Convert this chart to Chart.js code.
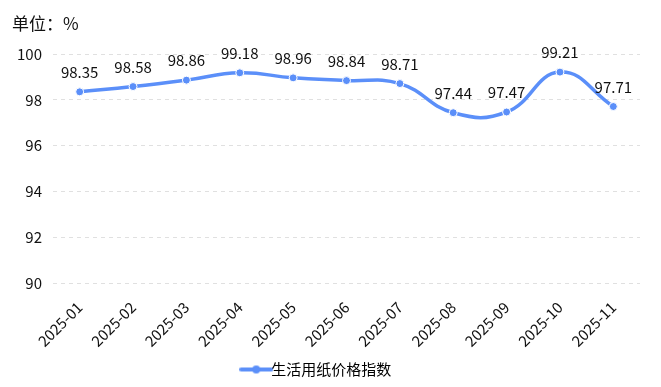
<!DOCTYPE html>
<html>
<head>
<meta charset="utf-8">
<script src="https://cdn.jsdelivr.net/npm/chart.js@4"></script>
<style>
  html,body{margin:0;padding:0;background:#fff;}
  #wrap{position:relative;width:661px;height:387px;}
  #unit{position:absolute;left:12px;top:10px;font:17px "Noto Sans CJK SC",sans-serif;color:#111;}
</style>
</head>
<body>
<div id="wrap">
  <div id="unit">单位：%</div>
  <canvas id="chart" width="661" height="387"></canvas>
</div>
<script>
const months = ['2025-01','2025-02','2025-03','2025-04','2025-05','2025-06','2025-07','2025-08','2025-09','2025-10','2025-11'];
const indexValues = [98.35, 98.58, 98.86, 99.18, 98.96, 98.84, 98.71, 97.44, 97.47, 99.21, 97.71];
const yTicks = [90, 92, 94, 96, 98, 100];
const seriesName = '生活用纸价格指数';
const blue = '#5B8FF9';
const font = '"Noto Sans CJK SC", sans-serif';

// legend marker: line with a dot in the middle
function legendIcon(){
  const c = document.createElement('canvas');
  c.width = 34; c.height = 10;
  const g = c.getContext('2d');
  g.strokeStyle = blue; g.lineWidth = 4; g.lineCap = 'round';
  g.beginPath(); g.moveTo(2,5); g.lineTo(32,5); g.stroke();
  g.fillStyle = blue;
  g.beginPath(); g.arc(17,5,4,0,Math.PI*2); g.fill();
  return c;
}

// value labels above each point
const valueLabels = {
  id:'valueLabels',
  afterDatasetsDraw(chart){
    const ctx = chart.ctx;
    const meta = chart.getDatasetMeta(0);
    ctx.save();
    ctx.font = '15px ' + font;
    ctx.fillStyle = '#111';
    ctx.textAlign = 'center';
    ctx.textBaseline = 'alphabetic';
    meta.data.forEach((pt,i)=>{
      ctx.fillText(indexValues[i].toFixed(2), pt.x, pt.y - 14);
    });
    ctx.restore();
  }
};

new Chart(document.getElementById('chart'), {
  type:'line',
  data:{
    labels: months,
    datasets:[{
      label: seriesName,
      data: indexValues,
      borderColor: blue,
      backgroundColor: blue,
      borderWidth: 3.5,
      tension: 0.45,
      pointRadius: 4,
      pointBorderColor: '#fff',
      pointBorderWidth: 1,
      pointBackgroundColor: blue
    }]
  },
  options:{
    responsive:false,
    animation:false,
    layout:{ padding:{ top:54, right:21, left:0, bottom:0 } },
    scales:{
      x:{
        offset:true,
        grid:{ display:false },
        border:{ display:false },
        ticks:{ color:'#111', font:{ family:font, size:15 }, maxRotation:45, minRotation:45, padding:7 }
      },
      y:{
        min:90, max:100,
        afterBuildTicks:(ax)=>{ ax.ticks = yTicks.map(v=>({value:v})); },
        afterFit:(ax)=>{ ax.width = 53; },
        border:{ display:false, dash:[4,4] },
        grid:{ color:'#e0e0e0', drawTicks:false },
        ticks:{ color:'#111', font:{ family:font, size:15 }, padding:11 }
      }
    },
    plugins:{
      legend:{
        position:'bottom',
        labels:{
          usePointStyle:true,
          color:'#111',
          font:{ family:font, size:15 },
          padding:5,
          generateLabels:()=>[{
            text: seriesName, pointStyle: legendIcon(), fillStyle: blue, strokeStyle: blue, lineWidth:0, datasetIndex:0
          }]
        }
      },
      tooltip:{ enabled:false }
    }
  },
  plugins:[valueLabels]
});
</script>
</body>
</html>
